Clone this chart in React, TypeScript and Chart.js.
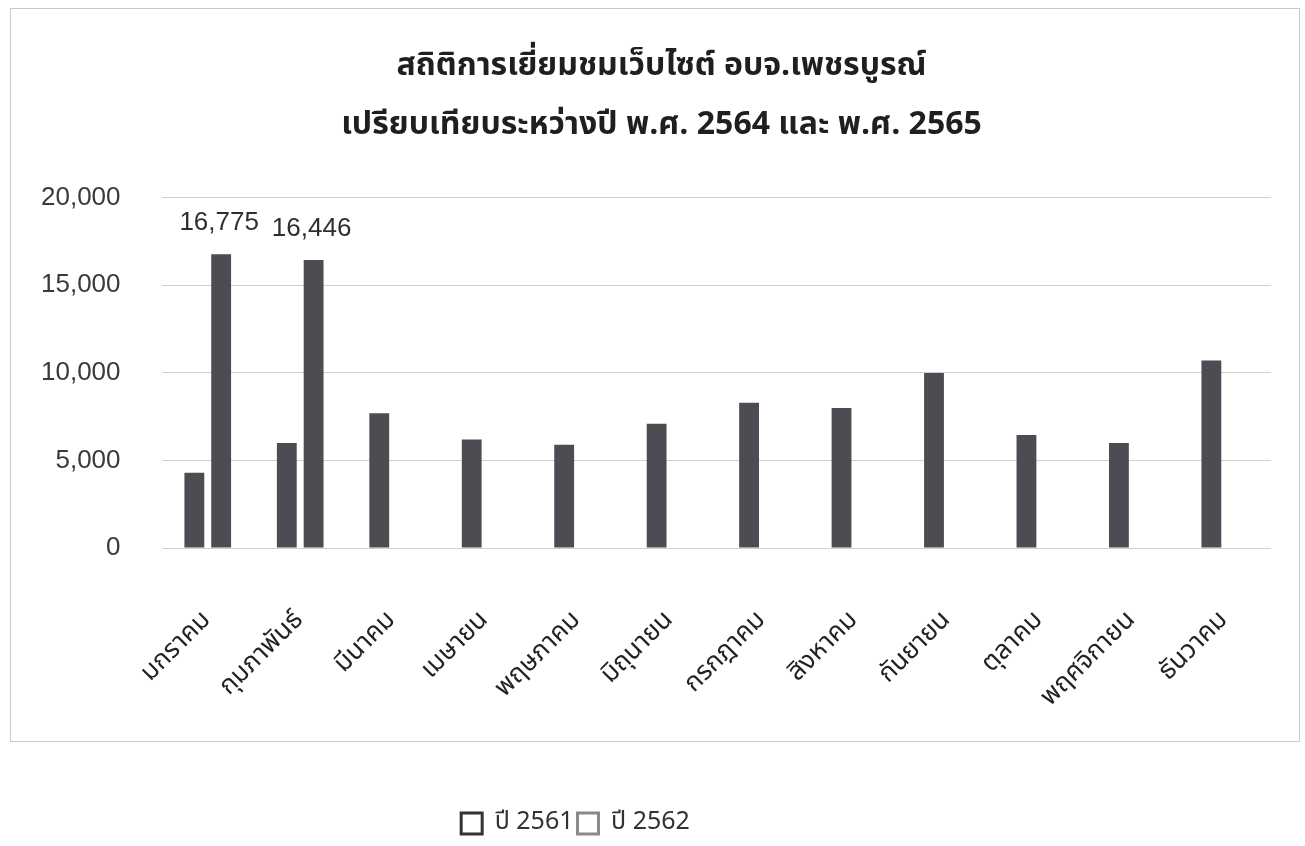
import React, { useEffect, useRef } from "react";
import { Chart, registerables } from "chart.js";

Chart.register(...registerables);

const titleLines = [
  "สถิติการเยี่ยมชมเว็บไซต์ อบจ.เพชรบูรณ์",
  "เปรียบเทียบระหว่างปี พ.ศ. 2564 และ พ.ศ. 2565",
];
const categories = [
  "มกราคม",
  "กุมภาพันธ์",
  "มีนาคม",
  "เมษายน",
  "พฤษภาคม",
  "มิถุนายน",
  "กรกฎาคม",
  "สิงหาคม",
  "กันยายน",
  "ตุลาคม",
  "พฤศจิกายน",
  "ธันวาคม",
];
const seriesNames = ["ปี 2561", "ปี 2562"];
const values2561 = [4300, 6000, 7700, 6200, 5900, 7100, 8300, 8000, 10000, 6450, 6000, 10700];
const values2562: (number | null)[] = [16775, 16446, null, null, null, null, null, null, null, null, null, null];
const yMin = 0;
const yMax = 20000;
const yStep = 5000;

const THAI = "'Noto Sans Thai', 'Noto Sans Thai UI', 'Noto Sans', 'Liberation Sans', sans-serif";
const LATIN = "'Liberation Sans', Arial, sans-serif";
const BAR = "#4b4d53";

const pagePlugin = {
  id: "pageFrame",
  beforeDraw(chart: any) {
    const { ctx, width, height } = chart;
    ctx.save();
    ctx.fillStyle = "#ffffff";
    ctx.fillRect(0, 0, width, height);
    ctx.strokeStyle = "#c9c9c9";
    ctx.lineWidth = 1;
    ctx.strokeRect(10.5, 8.5, 1289, 733);
    ctx.restore();
  },
  afterLayout(chart: any) {
    if (chart.legend) {
      chart.legend.left -= 60;
      chart.legend.right -= 60;
    }
    if (chart.titleBlock) {
      chart.titleBlock.left += 26;
      chart.titleBlock.right += 26;
    }
  },
};

const valueLabels = {
  id: "valueLabels",
  afterDatasetsDraw(chart: any) {
    const { ctx } = chart;
    const ds = chart.data.datasets[1];
    const meta = chart.getDatasetMeta(1);
    ctx.save();
    ctx.font = `26px ${LATIN}`;
    ctx.fillStyle = "#2e2e2e";
    ctx.textAlign = "center";
    ctx.textBaseline = "middle";
    meta.data.forEach((bar: any, i: number) => {
      const v = ds.data[i];
      if (v == null) return;
      ctx.fillText(Number(v).toLocaleString("en-US"), bar.x - 2, bar.y - 31);
    });
    ctx.restore();
  },
};

export default function App() {
  const ref = useRef<HTMLCanvasElement | null>(null);

  useEffect(() => {
    if (!ref.current) return;
    const chart = new Chart(ref.current, {
      type: "bar",
      data: {
        labels: categories,
        datasets: [
          {
            label: seriesNames[0],
            data: values2561,
            backgroundColor: BAR,
            categoryPercentage: 0.58,
            barPercentage: 0.74,
          },
          {
            label: seriesNames[1],
            data: values2562,
            backgroundColor: BAR,
            categoryPercentage: 0.58,
            barPercentage: 0.74,
          },
        ],
      },
      options: {
        animation: false,
        responsive: false,
        maintainAspectRatio: false,
        layout: { padding: { left: 0, right: 34, top: 0, bottom: 0 } },
        plugins: {
          title: {
            display: true,
            text: titleLines,
            color: "#1f1f1f",
            font: { family: THAI, size: 32, weight: "bold", lineHeight: 1.84 },
            padding: { top: 39, bottom: 41 },
          },
          legend: {
            display: true,
            position: "bottom",
            labels: {
              boxWidth: 21,
              boxHeight: 21,
              padding: 4,
              color: "#333333",
              font: { family: THAI, size: 25 },
              generateLabels: (c: any) =>
                c.data.datasets.map((ds: any, i: number) => ({
                  text: ds.label,
                  fillStyle: "#ffffff",
                  strokeStyle: i === 0 ? "#333333" : "#8a8a8a",
                  lineWidth: 3,
                  hidden: false,
                  datasetIndex: i,
                  fontColor: "#333333",
                })),
            },
          },
          tooltip: { enabled: false },
        },
        scales: {
          x: {
            grid: { display: false, drawTicks: false },
            border: { display: false },
            ticks: {
              minRotation: 45,
              maxRotation: 45,
              padding: 58,
              color: "#222222",
              font: { family: THAI, size: 26 },
            },
            afterFit: (scale: any) => {
              scale.height = 259;
              scale.paddingLeft = 0;
              scale.paddingRight = 0;
            },
          },
          y: {
            min: yMin,
            max: yMax,
            ticks: {
              stepSize: yStep,
              padding: 41,
              color: "#3a3a3a",
              font: { family: LATIN, size: 26 },
              callback: (v: any) => Number(v).toLocaleString("en-US"),
            },
            grid: { color: "#cfcfcf", lineWidth: 1, drawTicks: false },
            border: { display: false },
          },
        },
      },
      plugins: [pagePlugin, valueLabels],
    });
    return () => chart.destroy();
  }, []);

  return (
    <div style={{ position: "fixed", left: 0, top: 0, width: 1305, height: 846 }}>
      <canvas ref={ref} width={1305} height={846} style={{ width: 1305, height: 846, display: "block" }} />
    </div>
  );
}
